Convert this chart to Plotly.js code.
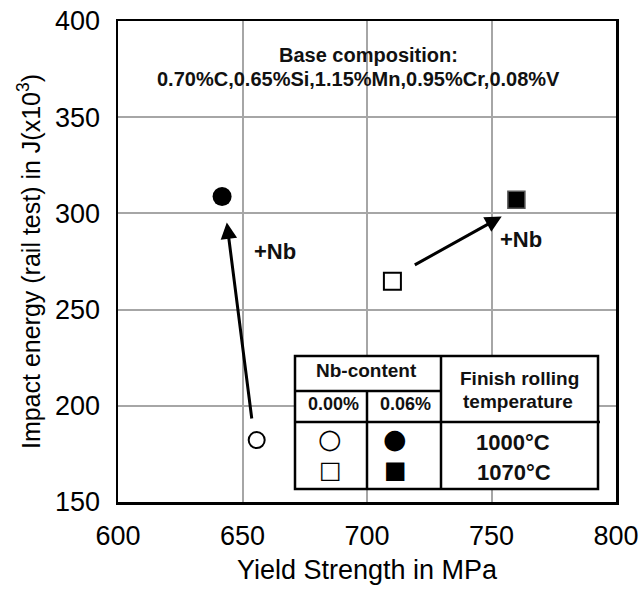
<!DOCTYPE html>
<html>
<head>
<meta charset="utf-8">
<script src="https://cdn.plot.ly/plotly-3.0.1.min.js"></script>
<style>html,body{margin:0;padding:0;background:#fff;}#chart{width:644px;height:589px;}</style>
</head>
<body>
<div id="chart"></div>
<script>
// ---- data ----
const pointLabels = ['0.00% Nb, 1000°C', '0.06% Nb, 1000°C', '0.00% Nb, 1070°C', '0.06% Nb, 1070°C'];
const yieldStrength = [655.7, 641.8, 710.2, 760.0];   // MPa
const impactEnergy = [182.2, 308.8, 264.7, 307.1];    // J (x10^3)
const xTicks = [600, 650, 700, 750, 800];
const yTicks = [150, 200, 250, 300, 350, 400];
// arrows: tail -> head (effect of Nb addition)
const arrowTailX = [653.8, 718.6];
const arrowTailY = [192.6, 272.8];
const arrowHeadX = [643.7, 754.1];
const arrowHeadY = [295.3, 298.4];
const nbLabelX = [663, 762];
const nbLabelY = [280.2, 286.3];
const compositionLines = ['Base composition:', '0.70%C,0.65%Si,1.15%Mn,0.95%Cr,0.08%V'];
const nbLevels = ['0.00%', '0.06%'];
const rollTemps = ['1000°C', '1070°C'];

// ---- styles ----
const symbols = ['circle-open', 'circle', 'square-open', 'square'];
const FONT = 'Arial, "Liberation Sans", sans-serif';

const trace = {
  x: yieldStrength, y: impactEnergy, text: pointLabels,
  type: 'scatter', mode: 'markers', hoverinfo: 'text', cliponaxis: false,
  marker: {
    symbol: symbols, size: [16, 19, 17, 17], color: '#000', opacity: 1,
    line: {color: ['#000', '#000', '#000', '#555'], width: [2, 0, 2, 1.5]}
  }
};

// geometry helpers for paper coords (plot area: x 118..616, y 21..502 px)
const PL = 118, PR = 616, PT = 21, PB = 502;
const px = v => (v - PL) / (PR - PL);
const py = v => (PB - v) / (PB - PT);

const annotations = [];
function paperText(xp, yp, text, font) {
  annotations.push({xref: 'paper', yref: 'paper', x: px(xp), y: py(yp), text: text, showarrow: false,
    xanchor: 'center', yanchor: 'middle', font: font});
}
// composition text
paperText(368, 55, '<b>' + compositionLines[0] + '</b>', {family: FONT, size: 20, color: '#111'});
paperText(358, 79, '<b>' + compositionLines[1] + '</b>', {family: FONT, size: 20, color: '#111'});
// arrows
for (let i = 0; i < arrowTailX.length; i++) {
  annotations.push({xref: 'x', yref: 'y', axref: 'x', ayref: 'y', x: arrowHeadX[i], y: arrowHeadY[i], ax: arrowTailX[i], ay: arrowTailY[i],
    text: '', showarrow: true, arrowhead: 2, arrowsize: 1.1, arrowwidth: 3, arrowcolor: '#000'});
  annotations.push({xref: 'x', yref: 'y', x: nbLabelX[i], y: nbLabelY[i], text: '<b>+Nb</b>', showarrow: false,
    xanchor: 'center', yanchor: 'middle', font: {family: FONT, size: 22, color: '#111'}});
}
// table texts
const tb = {family: FONT, size: 19, color: '#111'};
paperText(366, 370, '<b>Nb-content</b>', tb);
paperText(333, 404, '<b>' + nbLevels[0] + '</b>', {family: FONT, size: 18, color: '#111'});
paperText(405, 404, '<b>' + nbLevels[1] + '</b>', {family: FONT, size: 18, color: '#111'});
paperText(519, 378, '<b>Finish rolling</b>', tb);
paperText(518, 401, '<b>temperature</b>', tb);
paperText(513, 442, '<b>' + rollTemps[0] + '</b>', {family: FONT, size: 22, color: '#111'});
paperText(514, 472, '<b>' + rollTemps[1] + '</b>', {family: FONT, size: 22, color: '#111'});
// table key symbols
const keyFont = {family: '"DejaVu Sans", sans-serif', size: 27, color: '#000'};
paperText(330, 439, '○', keyFont);
paperText(395, 439, '●', keyFont);
paperText(330, 470, '□', {family: '"DejaVu Sans", sans-serif', size: 24, color: '#000'});
paperText(395, 470, '■', {family: '"DejaVu Sans", sans-serif', size: 24, color: '#000'});

const lineBlack = {color: '#000', width: 2.5};
const shapes = [
  {type: 'rect', xref: 'paper', yref: 'paper', x0: px(295), x1: px(598), y0: py(489), y1: py(356), fillcolor: '#fff', line: lineBlack, layer: 'above'},
  {type: 'line', xref: 'paper', yref: 'paper', x0: px(441), x1: px(441), y0: py(489), y1: py(356), line: lineBlack},
  {type: 'line', xref: 'paper', yref: 'paper', x0: px(367), x1: px(367), y0: py(489), y1: py(391), line: lineBlack},
  {type: 'line', xref: 'paper', yref: 'paper', x0: px(295), x1: px(441), y0: py(391), y1: py(391), line: lineBlack},
  {type: 'line', xref: 'paper', yref: 'paper', x0: px(295), x1: px(600), y0: py(422), y1: py(422), line: lineBlack}
];

const layout = {
  width: 644, height: 589,
  margin: {l: PL, r: 644 - PR, t: PT, b: 589 - PB},
  paper_bgcolor: '#fff', plot_bgcolor: '#fff',
  showlegend: false,
  font: {family: FONT, color: '#000'},
  xaxis: {
    range: [600, 800], tickvals: xTicks, ticktext: xTicks.map(String),
    showgrid: true, gridcolor: '#a6a6a6', gridwidth: 2,
    showline: true, linecolor: '#000', linewidth: 2.5, mirror: true,
    zeroline: false, ticks: '', ticklabelstandoff: 8,
    tickfont: {family: FONT, size: 27, color: '#000'},
    title: {text: 'Yield Strength in MPa', font: {family: FONT, size: 27, color: '#000'}, standoff: 10}
  },
  yaxis: {
    range: [150, 400], tickvals: yTicks, ticktext: yTicks.map(String),
    showgrid: true, gridcolor: '#a6a6a6', gridwidth: 2,
    showline: true, linecolor: '#000', linewidth: 2.5, mirror: true,
    zeroline: false, ticks: '', ticklabelstandoff: 10,
    tickfont: {family: FONT, size: 27, color: '#000'},
    title: {text: 'Impact energy (rail test) in J(x10<sup>3</sup>)', font: {family: FONT, size: 25, color: '#000'}, standoff: 8}
  },
  annotations: annotations,
  shapes: shapes
};

Plotly.newPlot('chart', [trace], layout, {displayModeBar: false, staticPlot: true});
</script>
</body>
</html>
